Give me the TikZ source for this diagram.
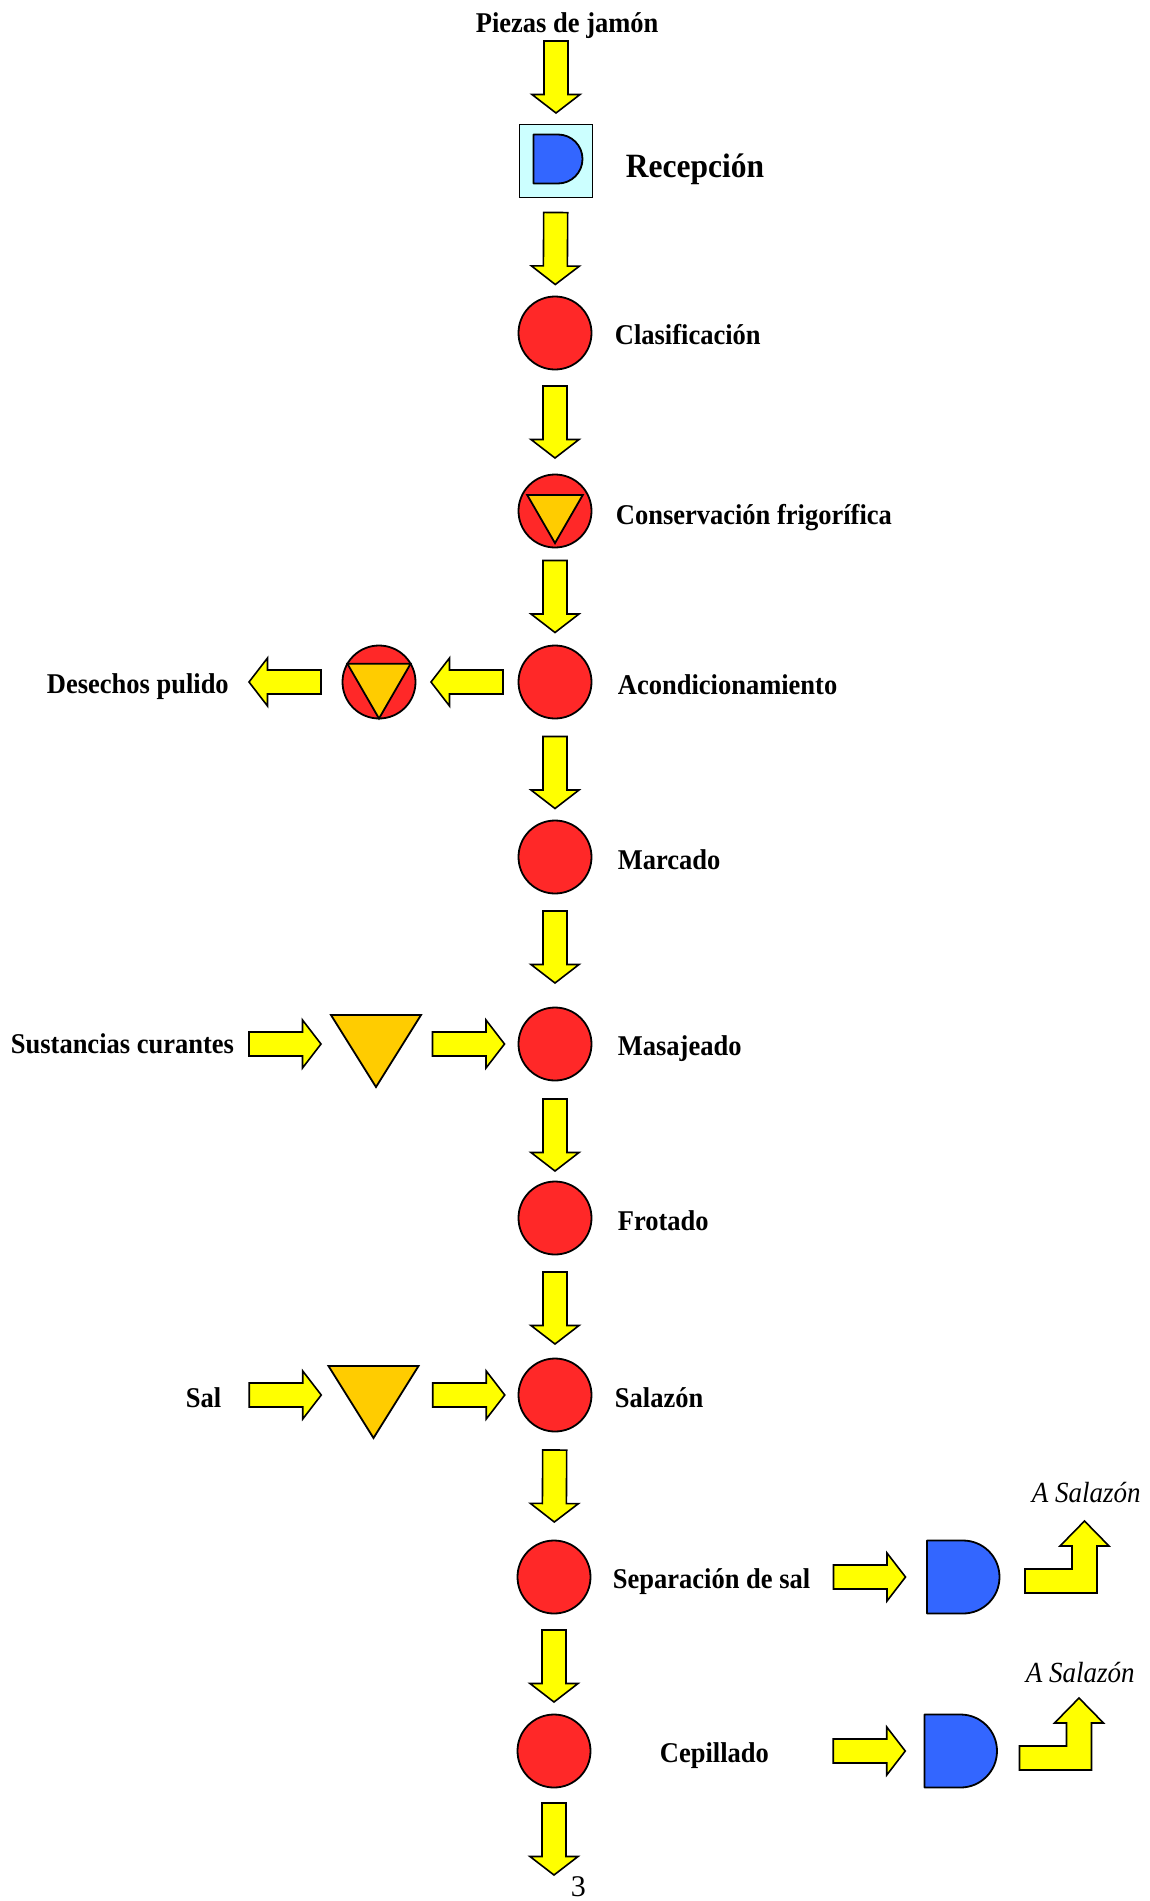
\documentclass[tikz,border=0pt]{standalone}
\usepackage{fontspec}
\usepackage{graphicx}
\setmainfont{Liberation Serif}
\usetikzlibrary{calc}

\definecolor{flowyellow}{RGB}{255,255,0}
\definecolor{procred}{RGB}{255,40,40}
\definecolor{storegold}{RGB}{255,204,0}
\definecolor{holdblue}{RGB}{51,102,255}
\definecolor{recvcyan}{RGB}{204,255,255}

% slightly tall lettering
\newcommand\tall[1]{\scalebox{1}[1.08]{#1}}
% point of a block arrow: #1 along the arrow, #2 across it
\newcommand\arpt[2]{($(\p3)+(\n1:#1)+({\n1+90}:#2)$)}
% "D" shaped delay symbol drawn inside a named box node
\newcommand\holdD[2]{\draw[holdfill] (#1.north west) -- (#1.north)
  arc[start angle=90, end angle=-90, radius=#2] -- (#1.south west) -- cycle;}
% inverted storage triangle around a named point
\newcommand\storeT[1]{\draw[storefill] ($(#1)+(-45,-29)$) -- ($(#1)+(45,-29)$)
  -- ($(#1)+(0,43)$) -- cycle;}
% storage triangle inscribed in a process circle
\newcommand\inT[2]{\draw[storefill] ($(#1.center)!#2!(#1.30)$) -- ($(#1.center)!#2!(#1.150)$)
  -- ($(#1.center)!#2!(#1.270)$) -- cycle;}

\tikzset{
  ashift/.store in=\ashift, ashift=0pt,
  barrow/.style={draw=black, fill=flowyellow, line width=1.6pt, line join=miter,
    to path={let \p1=(\tikztostart), \p2=(\tikztotarget),
      \n1={atan2(\y2-\y1,\x2-\x1)},
      \p3=($(\p1)!0.5!(\p2)+(\n1:\ashift)$)
      in \arpt{-36pt}{12pt} -- \arpt{17.5pt}{12pt} -- \arpt{17.5pt}{24pt}
      -- \arpt{36pt}{0pt} -- \arpt{17.5pt}{-24pt} -- \arpt{17.5pt}{-12pt}
      -- \arpt{-36pt}{-12pt} -- cycle}},
  bent/.pic={\draw[draw=black, fill=flowyellow, line width=1.6pt, line join=miter]
    (0,-12) -- (47,-12) -- (47,-35) -- (35,-35) -- (59.5,-60) -- (84,-35)
    -- (72,-35) -- (72,12) -- (0,12) -- cycle;}
}

\begin{document}
\begin{tikzpicture}[x=1pt, y=-1pt, line width=1.8pt,
  proc/.style={circle, draw=black, fill=procred, minimum size=73pt,
    inner sep=0pt, outer sep=0pt},
  dbox/.style={rectangle, inner sep=0pt, outer sep=0pt,
    minimum width=72pt, minimum height=73pt},
  recbox/.style={rectangle, draw=black, fill=recvcyan, minimum size=73pt,
    inner sep=0pt, outer sep=0pt},
  lab/.style={anchor=base west, inner sep=0pt,
    font=\fontsize{26.5}{30}\selectfont\bfseries},
  note/.style={anchor=base west, inner sep=0pt,
    font=\fontsize{27}{30}\selectfont\itshape},
  holdfill/.style={draw=black, fill=holdblue, line join=round},
  storefill/.style={draw=black, fill=storegold, line join=miter}]

\useasboundingbox (0,0) rectangle (1150,1901);

% ---- main column ----
\coordinate (src) at (556,-7);
\node[lab] (in) at (475,32) {\tall{Piezas de jamón}};

\node[recbox] (recep) at (556,161) {};
\node[dbox, minimum width=49pt, minimum height=49pt] (recD) at (558,159) {};
\holdD{recD}{24.5pt}
\node[lab, font=\fontsize{31.5}{36}\selectfont\bfseries] (recL) at (625,177) {\tall{Recepción}};

\node[proc] (c1) at (555,333) {};
\node[lab] (l1) at (614,344) {\tall{Clasificación}};

\node[proc] (c2) at (555,511) {};
\inT{c2}{0.88}
\node[lab] (l2) at (615,524) {\tall{Conservación frigorífica}};

\node[proc] (c3) at (555,682) {};
\node[lab] (l3) at (617,694) {\tall{Acondicionamiento}};
\node[proc] (s1) at (379,682) {};
\inT{s1}{1.0}
\coordinate (w1) at (191,682);
\node[lab] (lw) at (46,693) {\tall{Desechos pulido}};

\node[proc] (c4) at (555,857) {};
\node[lab] (l4) at (617,869) {\tall{Marcado}};

\node[proc] (c5) at (555,1044) {};
\node[lab] (l5) at (617,1055) {\tall{Masajeado}};
\coordinate (t1) at (376,1044);
\storeT{t1}
\coordinate (su) at (194,1044);
\node[lab] (ls) at (10,1053) {\tall{Sustancias curantes}};

\node[proc] (c6) at (555,1218) {};
\node[lab] (l6) at (617,1230) {\tall{Frotado}};

\node[proc] (c7) at (555,1395) {};
\node[lab] (l7) at (614,1407) {\tall{Salazón}};
\coordinate (t2) at (373.5,1395);
\storeT{t2}
\coordinate (sl) at (197,1395);
\node[lab] (lsal) at (185,1407) {\tall{Sal}};

\node[proc] (c8) at (554,1577) {};
\node[lab] (l8) at (612,1588) {\tall{Separación de sal}};
\node[dbox] (d1) at (963,1577) {};
\holdD{d1}{36.5pt}
\pic at ($(d1.east)+(26,4)$) {bent};
\node[note] (r1) at (1031,1502) {\tall{A Salazón}};

\node[proc] (c9) at (554,1751) {};
\node[lab] (l9) at (659,1762) {\tall{Cepillado}};
\node[dbox] (d2) at (960.5,1751) {};
\holdD{d2}{36.5pt}
\pic at ($(d2.east)+(23,7)$) {bent};
\node[note] (r2) at (1025,1682) {\tall{A Salazón}};

\coordinate (out) at (554,1927);
\node[anchor=base west, inner sep=0pt, font=\fontsize{30}{30}\selectfont] (pg) at (570,1896) {3};

% ---- flow arrows ----
\draw[barrow] (src) to (recep);
\draw[barrow, ashift=1.5pt] (recep) to (c1);
\draw[barrow] (c1) to (c2);
\draw[barrow] (c2) to (c3);
\draw[barrow] (c3) to (s1);
\draw[barrow] (s1) to (w1);
\draw[barrow, ashift=3pt] (c3) to (c4);
\draw[barrow, ashift=-3.5pt] (c4) to (c5);
\draw[barrow] (su) to (t1);
\draw[barrow, ashift=3pt] (t1) to (c5);
\draw[barrow, ashift=4pt] (c5) to (c6);
\draw[barrow, ashift=1.5pt] (c6) to (c7);
\draw[barrow] (sl) to (t2);
\draw[barrow, ashift=4.5pt] (t2) to (c7);
\draw[barrow] (c7) to (c8);
\draw[barrow, ashift=111pt] (c8) to (d1);
\draw[barrow, ashift=2pt] (c8) to (c9);
\draw[barrow, ashift=112pt] (c9) to (d2);
\draw[barrow] (c9) to (out);
\end{tikzpicture}
\end{document}
